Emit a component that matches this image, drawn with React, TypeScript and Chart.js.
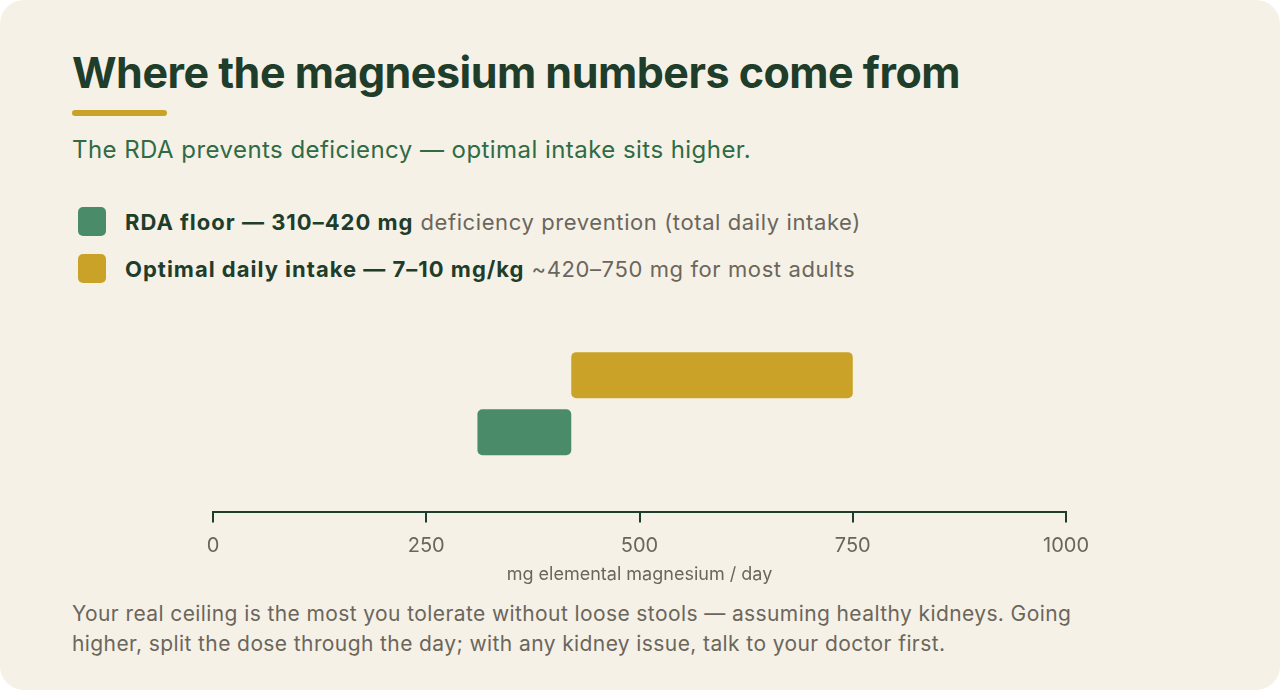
import React, { useEffect, useRef } from "react";
import { Chart, registerables } from "chart.js";

Chart.register(...registerables);

// Ranges in mg elemental magnesium per day
const rangeLabels = ["Optimal daily intake", "RDA floor"];
const optimalRange: [number, number] = [420, 750];
const rdaRange: [number, number] = [310, 420];
const xTickValues = [0, 250, 500, 750, 1000];
const xAxisTitle = "mg elemental magnesium / day";

const legendRows = [
  { color: "#4a8c69", strong: "RDA floor — 310–420 mg", note: "deficiency prevention (total daily intake)" },
  { color: "#c9a227", strong: "Optimal daily intake — 7–10 mg/kg", note: "~420–750 mg for most adults" },
];

const INK = "#1e3d2a";
const MUTED = "#6b665c";
const FONT = "Inter, 'Noto Sans', sans-serif";

function RangeChart() {
  const canvasRef = useRef<HTMLCanvasElement | null>(null);

  useEffect(() => {
    if (!canvasRef.current) return;
    const chart = new Chart(canvasRef.current, {
      type: "bar",
      data: {
        labels: ["range"],
        datasets: [
          {
            label: rangeLabels[0],
            data: [optimalRange] as any,
            backgroundColor: "#c9a227",
            borderRadius: 5,
            borderSkipped: false,
            barPercentage: 0.807,
            categoryPercentage: 0.525,
          },
          {
            label: rangeLabels[1],
            data: [rdaRange] as any,
            backgroundColor: "#4a8c69",
            borderRadius: 5,
            borderSkipped: false,
            barPercentage: 0.807,
            categoryPercentage: 0.525,
          },
        ],
      },
      options: {
        indexAxis: "y",
        animation: false,
        responsive: true,
        maintainAspectRatio: false,
        layout: { padding: { left: 213, right: 214, top: 15, bottom: 8 } },
        plugins: { legend: { display: false }, tooltip: { enabled: false } },
        scales: {
          y: { display: false },
          x: {
            min: 0,
            max: 1000,
            afterBuildTicks: (scale: any) => {
              scale.ticks = xTickValues.map((v) => ({ value: v }));
            },
            border: { display: true, color: INK, width: 2 },
            grid: {
              display: true,
              drawOnChartArea: false,
              drawTicks: true,
              tickLength: 10,
              color: INK,
              lineWidth: 2,
            },
            ticks: {
              padding: 12,
              color: MUTED,
              font: { family: FONT, size: 20 },
              maxRotation: 0,
              callback: (value: any) => String(value),
            },
            title: {
              display: true,
              text: xAxisTitle,
              color: MUTED,
              font: { family: FONT, size: 18 },
              padding: { top: -7, bottom: 0 },
            },
          },
        },
      },
    });
    return () => chart.destroy();
  }, []);

  return (
    <div style={{ position: "absolute", left: 0, top: 280, width: 1280, height: 313 }}>
      <canvas ref={canvasRef} />
    </div>
  );
}

export default function App() {
  return (
    <div
      style={{
        position: "fixed",
        inset: 0,
        background: "#f6f1e7",
        borderRadius: 24,
        fontFamily: FONT,
        overflow: "hidden",
      }}
    >
      <div
        style={{
          position: "absolute",
          left: 72,
          top: 46,
          fontSize: 43,
          lineHeight: "52px",
          fontWeight: 700,
          color: INK,
          letterSpacing: "-0.5px",
          whiteSpace: "nowrap",
        }}
      >
        Where the magnesium numbers come from
      </div>
      <div
        style={{
          position: "absolute",
          left: 72,
          top: 110,
          width: 95,
          height: 6,
          borderRadius: 3,
          background: "#c9a227",
        }}
      />
      <div
        style={{
          position: "absolute",
          left: 72,
          top: 135,
          fontSize: 24,
          lineHeight: "30px",
          color: "#2f6b45",
          letterSpacing: "0.45px",
          whiteSpace: "nowrap",
        }}
      >
        The RDA prevents deficiency — optimal intake sits higher.
      </div>
      {legendRows.map((row, i) => (
        <div
          key={row.strong}
          style={{
            position: "absolute",
            left: 78,
            top: 207 + i * 47,
            height: 29,
            display: "flex",
            alignItems: "center",
            whiteSpace: "nowrap",
          }}
        >
          <span
            style={{
              width: 28,
              height: 29,
              borderRadius: 5,
              background: row.color,
              marginRight: 19,
              flex: "none",
            }}
          />
          <span style={{ fontSize: 22, fontWeight: 700, color: INK, letterSpacing: "1px" }}>
            {row.strong}
          </span>
          <span style={{ fontSize: 22, color: MUTED, marginLeft: 7, letterSpacing: "0.6px" }}>
            {row.note}
          </span>
        </div>
      ))}
      <RangeChart />
      <div
        style={{
          position: "absolute",
          left: 72,
          top: 599,
          fontSize: 21,
          lineHeight: "30px",
          color: MUTED,
          letterSpacing: "0.4px",
          whiteSpace: "nowrap",
        }}
      >
        Your real ceiling is the most you tolerate without loose stools — assuming healthy kidneys. Going
        <br />
        higher, split the dose through the day; with any kidney issue, talk to your doctor first.
      </div>
    </div>
  );
}
